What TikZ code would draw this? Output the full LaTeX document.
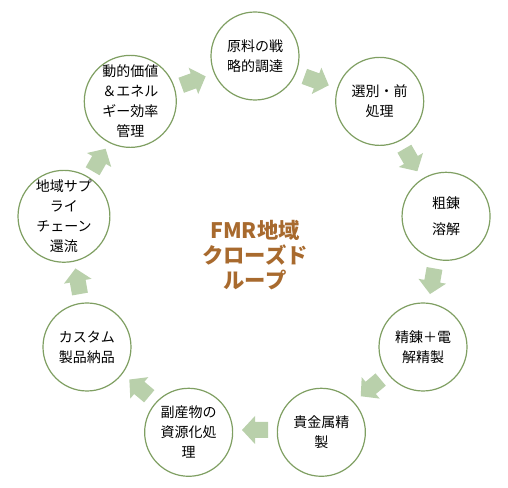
\documentclass[tikz,border=0pt]{standalone}
\usepackage{fontspec}
\setmainfont{Noto Sans CJK JP}
\newfontfamily\cjk{Noto Sans CJK JP}
\usetikzlibrary{calc}
\definecolor{ringgreen}{HTML}{7F9F62}
\definecolor{arrowgreen}{HTML}{B9D0AB}
\definecolor{titlebrown}{HTML}{A86A2E}
\tikzset{
  stepcirc/.style={circle, draw=ringgreen, line width=0.9pt, fill=white,
    minimum size=66pt, inner sep=0pt, align=center,
    font=\cjk\fontsize{10.5pt}{15pt}\selectfont},
  blockarrow/.style={fill=arrowgreen},
}
\newcommand{\cyclearrow}[2]{%
  \fill[blockarrow, shift={($(C)+(#1:180)$)}, rotate=#2]
    (-13,-8) -- (0,-8) -- (0,-14) -- (13,0) -- (0,14) -- (0,8) -- (-13,8) -- cycle;}
\begin{document}
\begin{tikzpicture}[x=0.75pt,y=0.75pt]
\useasboundingbox (0,0) rectangle (508,488);
\coordinate (C) at (255,238);
% arrows
\cyclearrow{70}{-20}
\cyclearrow{30}{-60}
\cyclearrow{-10}{-100}
\cyclearrow{-50}{-140}
\cyclearrow{-90}{-180}
\cyclearrow{-130}{140}
\cyclearrow{-170}{100}
\cyclearrow{150}{60}
\cyclearrow{110}{20}
% circles
\node[stepcirc] (n1) at ($(C)+(90:194)$) {原料の戦\\略的調達};
\node[stepcirc] (n2) at ($(C)+(50:194)$) {選別・前\\処理};
\node[stepcirc] (n3) at ($(C)+(10:194)$) {粗錬\\[4pt]溶解};
\node[stepcirc] (n4) at ($(C)+(-30:194)$) {精錬＋電\\解精製};
\node[stepcirc] (n5) at ($(C)+(-70:194)$) {貴金属精\\製};
\node[stepcirc] (n6) at ($(C)+(-110:194)$) {副産物の\\資源化処\\理};
\node[stepcirc] (n7) at ($(C)+(-150:194)$) {カスタム\\製品納品};
\node[stepcirc] (n8) at ($(C)+(170:194)$) {地域サプ\\ライ\\チェーン\\還流};
\node[stepcirc] (n9) at ($(C)+(130:194)$) {動的価値\\＆エネル\\ギー効率\\管理};
% title
\node[align=center, text=titlebrown, font=\cjk\bfseries\fontsize{16pt}{19pt}\selectfont] (title) at (255,233) {FMR地域\\クローズド\\ループ};
\end{tikzpicture}
\end{document}
